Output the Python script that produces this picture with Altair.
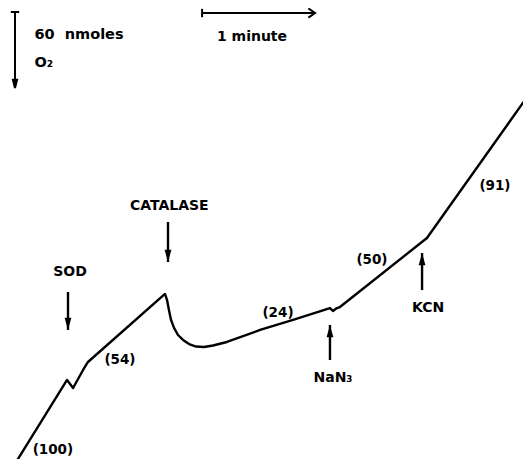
import altair as alt
import pandas as pd

# Oxygen-uptake trace: time (s) vs O2 consumed (nmol)
trace_t = [-3.0, 0.0, 28.7, 31.9, 37.2, 39.8, 80.7, 81.8, 82.8, 83.9, 85.5, 87.6, 90.3, 93.5,
           97.2, 101.4, 106.2, 113.6, 131.2, 148.7, 168.3, 169.9, 172.0, 173.6, 219.8, 274.5, 278.0]
trace_n = [-7.0, 0.0, 68.7, 62.4, 76.6, 82.9, 136.6, 131.8, 123.9, 116.1, 109.8, 104.2, 100.3, 97.1,
           95.1, 94.7, 95.9, 98.7, 108.2, 116.1, 125.5, 123.2, 125.5, 126.3, 180.8, 295.3, 300.0]

# rate labels
rate_labels = ["(100)", "(54)", "(24)", "(50)", "(91)"]
rate_t = [21.2, 56.8, 140.7, 190.6, 255.9]
rate_n = [13.4, 84.5, 121.6, 163.4, 221.8]

# additions (arrows)
add_labels = ["SOD", "CATALASE", "NaN₃", "KCN"]
add_label_t = [30.3, 83.0, 169.9, 220.4]
add_label_n = [153.9, 206.0, 70.3, 125.5]
arrow_t = [29.2, 82.3, 168.3, 217.2]
arrow_from = [138.2, 193.4, 84.5, 139.7]
arrow_to = [108.2, 161.8, 112.1, 168.9]

# scale bars: 60 nmol O2 and 1 minute
vbar_t = 1.06
vbar_n = [359.2, 299.2]
hbar_n = 358.4
hbar_t = [100.4, 160.4]
scale_labels = ["60\u00a0\u00a0nmoles", "O₂", "1 minute"]
scale_label_t = [11.4, 11.4, 126.9]
scale_label_n = [341.0, 318.9, 339.5]
scale_label_align = ["left", "left", "center"]

# pixel geometry of the original figure (used for scale domains)
PX_PER_S = 113 / 60
PX_PER_NMOL = 76 / 60
W, H = 515, 451
T0 = (8 - 13) / PX_PER_S
T1 = T0 + W / PX_PER_S
N1 = (467 - 8) / PX_PER_NMOL
N0 = N1 - H / PX_PER_NMOL

xs = alt.Scale(domain=[T0, T1], nice=False, zero=False)
ys = alt.Scale(domain=[N0, N1], nice=False, zero=False)

FONT = "DejaVu Sans"

X = lambda f: alt.X(f, scale=xs, axis=None)
Y = lambda f: alt.Y(f, scale=ys, axis=None)

trace_df = pd.DataFrame({"t": trace_t, "n": trace_n, "o": range(len(trace_t))})
trace = alt.Chart(trace_df).mark_line(
    color="black", strokeWidth=2.4, clip=True, strokeJoin="round", strokeCap="round"
).encode(x=X("t:Q"), y=Y("n:Q"), order="o:Q")

rates = alt.Chart(pd.DataFrame({"t": rate_t, "n": rate_n, "label": rate_labels})).mark_text(
    font=FONT, fontWeight="bold", fontSize=13.5, color="black", align="center", baseline="middle"
).encode(x=X("t:Q"), y=Y("n:Q"), text="label:N")

adds = alt.Chart(pd.DataFrame({"t": add_label_t, "n": add_label_n, "label": add_labels})).mark_text(
    font=FONT, fontWeight="bold", fontSize=14, color="black", align="center", baseline="middle"
).encode(x=X("t:Q"), y=Y("n:Q"), text="label:N")

arrow_df = pd.DataFrame({
    "t": arrow_t, "n1": arrow_from, "n2": arrow_to,
    "shape": ["M-0.55,-2L0.55,-2L0,0Z" if b < a else "M-0.55,2L0.55,2L0,0Z"
              for a, b in zip(arrow_from, arrow_to)],
})
shafts = alt.Chart(arrow_df).mark_rule(color="black", strokeWidth=2.4).encode(
    x=X("t:Q"), y=Y("n1:Q"), y2="n2:Q"
)
heads = alt.Chart(arrow_df).mark_point(
    filled=True, color="black", size=150, opacity=1
).encode(
    x=X("t:Q"), y=Y("n2:Q"),
    shape=alt.Shape("shape:N", scale=None, legend=None),
)

# scale bars
vbar = alt.Chart(pd.DataFrame({"t": [vbar_t], "n1": [vbar_n[0]], "n2": [vbar_n[1]]})).mark_rule(
    color="black", strokeWidth=2
).encode(x=X("t:Q"), y=Y("n1:Q"), y2="n2:Q")
hbar = alt.Chart(pd.DataFrame({"t1": [hbar_t[0]], "t2": [hbar_t[1]], "n": [hbar_n]})).mark_rule(
    color="black", strokeWidth=2
).encode(x=X("t1:Q"), x2="t2:Q", y=Y("n:Q"))

bar_marks_df = pd.DataFrame({
    "t": [vbar_t, vbar_t, hbar_t[0], hbar_t[1]],
    "n": [vbar_n[0], vbar_n[1], hbar_n, hbar_n],
    "shape": ["M-1,0L1,0", "M-0.5,-2L0.5,-2L0,0Z", "M0,-1L0,1", "M-1.6,-1.1L0,0L-1.6,1.1"],
    "fill": ["none", "black", "none", "none"],
})
bar_ticks = alt.Chart(bar_marks_df).mark_point(
    stroke="black", strokeWidth=2, size=70, opacity=1, strokeJoin="miter"
).encode(
    x=X("t:Q"), y=Y("n:Q"),
    shape=alt.Shape("shape:N", scale=None, legend=None),
    fill=alt.Fill("fill:N", scale=None, legend=None),
)

scale_text_df = pd.DataFrame({"t": scale_label_t, "n": scale_label_n, "label": scale_labels,
                              "align": scale_label_align})
scale_text_left = alt.Chart(scale_text_df[scale_text_df["align"] == "left"]).mark_text(
    font=FONT, fontWeight="bold", fontSize=14.5, color="black", align="left", baseline="middle"
).encode(x=X("t:Q"), y=Y("n:Q"), text="label:N")
scale_text_center = alt.Chart(scale_text_df[scale_text_df["align"] == "center"]).mark_text(
    font=FONT, fontWeight="bold", fontSize=14, color="black", align="center", baseline="middle"
).encode(x=X("t:Q"), y=Y("n:Q"), text="label:N")

chart = alt.layer(
    trace, shafts, heads, vbar, hbar, bar_ticks, rates, adds, scale_text_left, scale_text_center
).properties(
    width=W, height=H, padding=0, background="white",
    autosize=alt.AutoSizeParams(type="none"),
).configure_view(stroke=None)

chart.save("out.html", embed_options={"renderer": "svg", "actions": False})
